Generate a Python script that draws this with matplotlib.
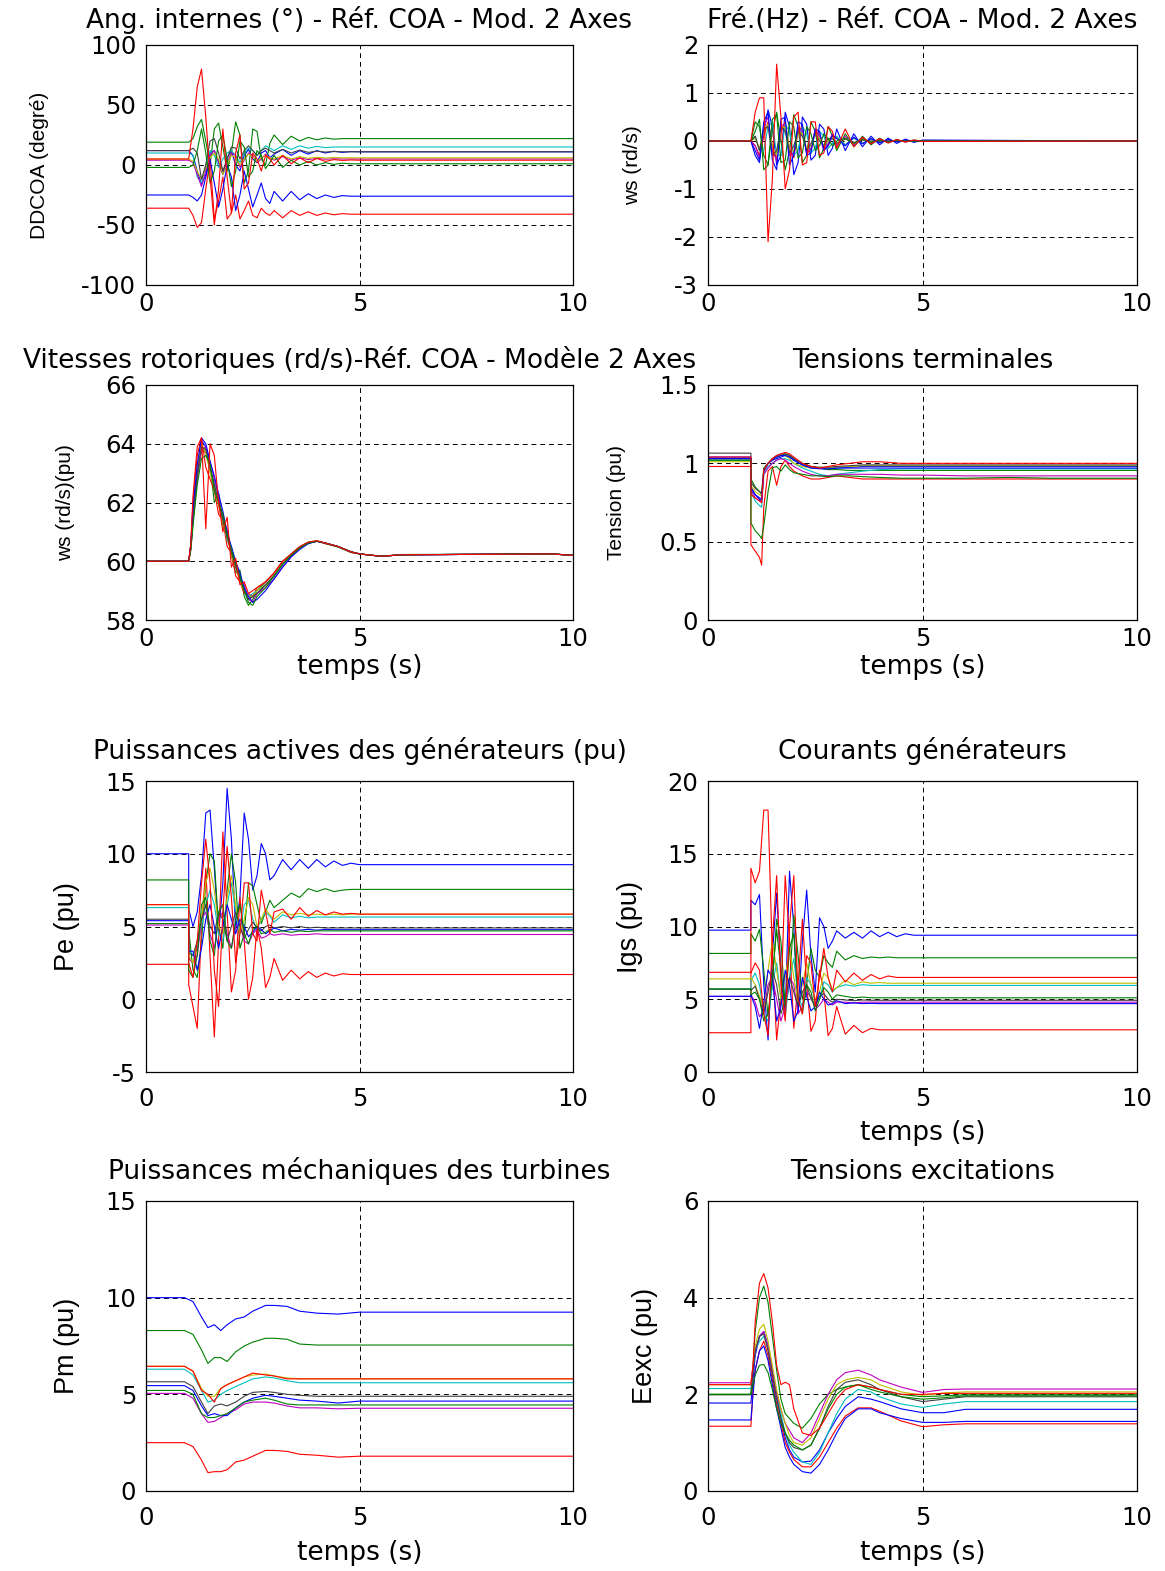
import matplotlib
matplotlib.use("Agg")
import matplotlib.pyplot as plt
import matplotlib.font_manager as fm

plt.rcParams['font.family'] = ['DejaVu Sans']

# ---------------- data ----------------
COLORS = ['#0000ff', '#008000', '#ff0000', '#00bfbf', '#bf00bf',
          '#bfbf00', '#404040', '#0000ff', '#008000', '#ff0000']

X_TICKS = [0, 5, 10]
X_TICK_LABELS = ['0', '5', '10']

# time grid for strongly oscillating quantities
T_OSC = [0, 1.0, 1.0, 1.1, 1.2, 1.3, 1.4, 1.5, 1.6, 1.7, 1.8, 1.9, 2.0,
         2.1, 2.2, 2.3, 2.4, 2.5, 2.6, 2.7, 2.8, 2.9, 3.0,
         3.2, 3.4, 3.6, 3.8, 4.0, 4.2, 4.4, 4.6, 4.8, 5.0, 10.0]

# 1) internal angles (deg)
ANG_G1 = [12,12,12, 8,-5,-16,-8,10,12,2,-8,6,12, 0,-5,8,13,5,2,10,12,6,9, 13,8,12,9,12,10,11.5,10.5,11.2,11, 11]
ANG_G2 = [19,19,19, 22,32,38,20,0,30,35,15,-5,10, 36,25,-15,-5,30,28,5,0,18,25, 17,24,20,23,21,22.5,21.5,22,22,22, 22]
ANG_G3 = [-36,-36,-36, -42,-52,-48,-20,5,-45,-30,-10,-45,-40, -25,-45,-38,-30,-42,-44,-36,-40,-42,-38, -44,-38,-42,-39,-42,-40,-41.5,-40.5,-41,-41, -41]
ANG_G4 = [10,10,10, 8,-10,-15,0,12,8,-2,5,10,12, 8,2,10,14,12,8,12,16,14,12, 16,13,16,14,15.5,14.5,15,15,15,15, 15]
ANG_G5 = [4,4,4, 2,-8,-18,-5,8,12,3,-5,2,10, 8,-2,4,10,8,2,5,9,6,4, 7,4,6,4.5,5.5,4.8,5.2,5,5,5, 5]
ANG_G6 = [5,5,5, 3,-5,-12,-2,6,10,5,-8,0,8, 6,0,5,9,7,3,6,8,6,5, 8,5,7,5.5,6.5,5.8,6.2,6,6,6, 6]
ANG_G7 = [12,12,12, 14,10,-12,0,20,22,10,-5,5,15, 14,5,12,16,12,8,12,14,12,10, 13,10,12.5,10.5,11.5,10.8,11.2,11,11,11, 11]
ANG_G8 = [-25,-25,-25, -27,-30,-25,-10,5,-15,-35,-20,0,-10, -38,-25,-5,-20,-35,-25,-15,-28,-32,-22, -30,-22,-29,-24,-28,-25,-27,-25.5,-26,-26, -26]
ANG_G9 = [-2,-2,-2, 0,12,30,10,-15,-5,20,25,5,-18, -5,20,15,-10,-5,12,8,-3,2,8, -2,4,0,3,0,2,0.5,1.5,1,1, 1]
ANG_G10 = [5,5,5, 30,65,80,40,-10,-50,-20,30,-10,-40, 10,25,-20,-15,10,5,-5,8,5,0, 8,1,6,2,5.5,3,4.5,3.8,4.2,4, 4]

# 2) frequency deviation
FRQ_G1 = [0,0,0, -0.2,-0.4,0.2,0.65,0.3,-0.5,-0.3,0.6,0.3,-0.7, -0.45,0.5,0.35,-0.4,-0.3,0.35,0.25,-0.3,-0.15,0.25, -0.2,0.15,-0.12,0.1,-0.08,0.06,-0.05,0.04,-0.03,0.02, 0]
FRQ_G2 = [0,0,0, 0.4,0.3,-0.3,-0.5,0.2,0.6,0.0,-0.6,-0.2,0.55, 0.3,-0.45,-0.3,0.4,0.2,-0.35,-0.15,0.3,0.1,-0.2, 0.15,-0.12,0.1,-0.08,0.06,-0.04,0.03,-0.02,0.02,0, 0]
FRQ_G3 = [0,0,0, -0.1,-0.3,0.1,0.4,-0.1,-0.4,0.2,0.4,-0.2,-0.35, 0.2,0.3,-0.25,-0.2,0.2,0.15,-0.15,-0.1,0.1,0.08, -0.08,0.06,-0.05,0.04,-0.03,0.02,0,0,0,0, 0]
FRQ_G4 = [0,0,0, 0.1,-0.2,-0.2,0.3,0.4,-0.3,-0.3,0.35,0.2,-0.3, -0.2,0.3,0.15,-0.25,-0.15,0.2,0.1,-0.15,-0.05,0.1, -0.08,0.06,-0.05,0.04,-0.03,0.02,-0.01,0,0,0, 0]
FRQ_G5 = [0,0,0, -0.1,-0.35,0.3,0.5,-0.2,-0.4,0.35,0.3,-0.3,-0.25, 0.3,0.2,-0.25,-0.15,0.25,0.1,-0.2,-0.05,0.15,-0.1, 0.1,-0.08,0.06,-0.05,0.04,-0.03,0.02,-0.02,0.01,0, 0]
FRQ_G6 = [0,0,0, 0.05,-0.15,0.2,0.35,-0.1,-0.3,0.25,0.3,-0.2,-0.2, 0.2,0.15,-0.15,-0.1,0.15,0.05,-0.1,0,0.08,-0.05, 0.05,-0.04,0.03,-0.02,0.02,0,0,0,0,0, 0]
FRQ_G7 = [0,0,0, 0.1,-0.2,0.25,0.3,-0.3,-0.2,0.3,0.2,-0.25,-0.1, 0.2,0.1,-0.2,-0.05,0.15,0,-0.1,0.05,0.05,-0.05, 0.04,-0.03,0.02,0,0,0,0,0,0,0, 0]
FRQ_G8 = [0,0,0, -0.3,-0.45,0.4,0.6,-0.4,-0.6,0.45,0.5,-0.5,-0.3, 0.4,0.35,-0.3,-0.25,0.25,0.2,-0.2,-0.1,0.12,0.05, -0.1,0.08,-0.06,0.05,-0.04,0.03,-0.02,0.02,0,0, 0]
FRQ_G9 = [0,0,0, 0.2,0.45,-0.6,-0.5,0.45,0.55,-0.45,-0.4,0.4,0.3, -0.35,-0.25,0.3,0.15,-0.2,-0.1,0.15,0.05,-0.1,0, 0.06,-0.05,0.04,-0.03,0.02,-0.02,0.01,0,0,0, 0]
FRQ_G10 = [0,0,0, 0.6,0.9,0.9,-2.1,-0.8,1.6,0.5,-1.0,-0.6,0.5, 0.6,-0.5,-0.45,0.4,0.4,-0.3,-0.25,0.3,0.2,-0.15, 0.25,-0.12,0.08,-0.06,0.05,-0.04,0.03,-0.02,0.02,-0.01, 0]

# 3) rotor speeds
T_SPD = [0, 1.0, 1.05, 1.1, 1.2, 1.3, 1.4, 1.5, 1.6, 1.7, 1.8, 1.9, 2.0, 2.1, 2.2, 2.3,
         2.4, 2.5, 2.6, 2.8, 3.0, 3.2, 3.4, 3.6, 3.8, 4.0, 4.2, 4.5, 4.8, 5.0, 5.5, 6.0, 9.5, 10.0]
SPD_G1 = [60,60,60.5, 61.6,63.1,64.1,63.9,63.2,62.6,62.1,61.5,60.9,60.4,59.9,59.5,59.0,58.7,58.8,58.9, 59.2,59.5,59.9,60.2,60.45,60.62,60.68,60.62, 60.5,60.32,60.25, 60.17,60.22,60.25,60.2]
SPD_G2 = [60,60,60.4, 61.3,62.8,63.8,63.7,63.3,62.0,62.3,61.2,61.0,60.2,59.6,59.7,58.8,58.5,58.7,59.0, 59.3,59.6,60.0,60.25,60.5,60.65,60.7,60.6, 60.48,60.3,60.25, 60.17,60.23,60.25,60.2]
SPD_G3 = [60,60,60.6, 62.0,63.6,64.2,63.2,62.8,62.4,61.6,61.4,60.5,60.3,59.5,59.3,58.9,58.9,58.8,59.1, 59.3,59.6,60.0,60.2,60.45,60.62,60.68,60.6, 60.5,60.3,60.25, 60.17,60.22,60.25,60.2]
SPD_G4 = [60,60,60.5, 61.5,63.0,63.9,63.8,63.1,62.7,61.9,61.6,60.7,60.5,59.8,59.4,59.1,58.8,58.9,59.0, 59.2,59.5,59.9,60.2,60.45,60.6,60.68,60.62, 60.5,60.32,60.25, 60.17,60.22,60.25,60.2]
SPD_G5 = [60,60,60.4, 61.4,62.9,63.8,63.9,63.4,62.8,62.2,61.4,61.1,60.3,60.0,59.4,59.2,58.7,58.6,58.9, 59.1,59.4,59.8,60.15,60.45,60.62,60.68,60.62, 60.5,60.32,60.25, 60.17,60.22,60.25,60.2]
SPD_G6 = [60,60,60.5, 61.7,63.2,64.0,63.7,63.0,62.5,61.9,61.3,60.8,60.2,59.8,59.3,59.0,58.8,58.8,59.0, 59.2,59.5,59.9,60.2,60.45,60.62,60.68,60.62, 60.5,60.32,60.25, 60.17,60.22,60.25,60.2]
SPD_G7 = [60,60,60.5, 61.6,63.0,63.9,63.8,63.2,62.6,62.0,61.4,60.8,60.3,59.8,59.4,59.0,58.7,58.8,58.9, 59.2,59.5,59.9,60.2,60.45,60.62,60.68,60.62, 60.5,60.32,60.25, 60.17,60.22,60.25,60.2]
SPD_G8 = [60,60,60.6, 61.8,63.3,64.2,64.0,63.4,62.9,62.3,61.7,61.0,60.5,60.0,59.6,59.1,58.8,58.6,58.7, 59.0,59.4,59.8,60.15,60.4,60.6,60.68,60.62, 60.5,60.32,60.25, 60.17,60.22,60.25,60.2]
SPD_G9 = [60,60,60.4, 61.2,62.6,63.5,63.6,63.3,62.4,62.0,61.6,60.9,60.4,59.9,59.5,59.0,58.6,58.5,58.8, 59.1,59.5,59.9,60.2,60.45,60.62,60.68,60.62, 60.5,60.32,60.25, 60.17,60.22,60.25,60.2]
SPD_G10 = [60,60,60.6, 62.2,63.9,64.2,61.1,64.0,63.6,62.0,61.0,61.5,59.8,60.1,59.2,59.3,58.9,59.0,59.1, 59.3,59.6,60.0,60.25,60.5,60.65,60.7,60.62, 60.5,60.32,60.25, 60.17,60.22,60.25,60.2]

# 4) terminal voltages
T_VT = [0, 1.0, 1.0, 1.1, 1.2, 1.25, 1.3, 1.4, 1.5, 1.6, 1.7, 1.8, 1.9, 2.0,
        2.2, 2.4, 2.6, 2.8, 3.0, 3.3, 3.6, 4.0, 4.5, 5.0, 6.0, 7.0, 8.0, 10.0]
VT_G1 = [1.04,1.04,0.85, 0.8,0.77,0.76,0.95, 1.0,1.02,1.03,1.04,1.05,1.04,1.02, 0.99,0.97,0.97,0.96,0.97, 0.975,0.98,0.98,0.98,0.98, 0.98,0.98,0.98,0.98]
VT_G2 = [1.02,1.02,0.9, 0.85,0.82,0.8,0.97, 1.0,1.03,1.04,1.05,1.06,1.05,1.03, 1.0,0.98,0.97,0.96,0.96, 0.955,0.955,0.955,0.955,0.955, 0.955,0.955,0.955,0.955]
VT_G3 = [0.98,0.98,0.48, 0.44,0.4,0.35,0.72, 0.95,0.98,0.86,0.98,1.02,0.98,0.95, 0.92,0.9,0.9,0.91,0.92, 0.91,0.9,0.9,0.9,0.9, 0.9,0.9,0.9,0.9]
VT_G4 = [1.02,1.02,0.82, 0.76,0.73,0.72,0.93, 0.98,1.0,1.02,1.03,1.03,1.02,1.0, 0.97,0.95,0.93,0.92,0.93, 0.94,0.95,0.96,0.965,0.965, 0.965,0.965,0.965,0.965]
VT_G5 = [1.03,1.03,0.83, 0.78,0.76,0.75,0.93, 0.97,1.0,1.02,1.03,1.02,1.0,0.98, 0.95,0.93,0.92,0.92,0.93, 0.93,0.93,0.93,0.925,0.925, 0.92,0.92,0.92,0.92]
VT_G6 = [1.01,1.01,0.86, 0.82,0.8,0.79,0.95, 1.0,1.02,1.04,1.05,1.05,1.03,1.0, 0.98,0.97,0.97,0.97,0.975, 0.98,0.985,0.985,0.985,0.985, 0.985,0.985,0.985,0.985]
VT_G7 = [1.065,1.065,0.88, 0.84,0.82,0.81,0.96, 1.0,1.03,1.05,1.06,1.06,1.05,1.03, 1.0,0.98,0.975,0.975,0.98, 0.985,0.99,0.99,0.99,0.99, 0.99,0.99,0.99,0.99]
VT_G8 = [1.03,1.03,0.84, 0.8,0.78,0.77,0.95, 1.0,1.02,1.04,1.05,1.05,1.04,1.02, 0.99,0.97,0.965,0.965,0.97, 0.97,0.97,0.97,0.97,0.97, 0.97,0.97,0.97,0.97]
VT_G9 = [1.02,1.02,0.62, 0.57,0.54,0.52,0.6, 0.82,0.97,0.98,0.95,0.99,0.96,0.94, 0.93,0.92,0.92,0.915,0.92, 0.92,0.915,0.91,0.905,0.905, 0.905,0.91,0.905,0.905]
VT_G10 = [1.04,1.04,0.8, 0.78,0.76,0.75,0.96, 1.0,1.03,1.05,1.06,1.07,1.06,1.04, 1.0,0.98,0.97,0.98,0.99, 1.0,1.01,1.01,1.0,1.0, 1.0,1.0,1.0,1.0]

# 5) active power Pe
PE_G1 = [10,10,6.2, 5.0,6.0,8.5,12.8,13.0,9.0,4.5,8.0,14.5,11.0, 4.8,7.0,12.8,11.0,7.5,8.5,10.7,10.0,8.2,8.5, 9.6,8.9,9.6,9.0,9.6,9.1,9.5,9.2,9.35,9.25, 9.25]
PE_G2 = [8.2,8.2,4.8, 2.0,1.5,4.0,8.0,10.0,9.5,5.0,3.5,7.5,10.0, 8.0,3.5,4.5,8.0,7.8,6.5,5.2,6.0,6.8,6.3, 6.8,7.3,7.0,7.6,7.4,7.6,7.4,7.5,7.55,7.55, 7.55]
PE_G3 = [2.4,2.4,1.0, -0.5,-2.0,5.0,9.0,3.0,-2.6,4.0,11.5,6.0,0.5, 2.0,7.0,4.0,0.0,1.5,5.0,3.5,0.8,1.5,2.8, 1.3,2.0,1.4,1.9,1.5,1.8,1.6,1.75,1.7,1.7, 1.7]
PE_G4 = [6.3,6.3,3.5, 3.0,3.5,5.0,6.5,7.5,6.5,4.5,4.0,6.5,8.0, 6.0,4.5,6.5,6.8,5.5,4.8,5.5,6.0,5.7,5.3, 5.8,5.6,5.7,5.6,5.65,5.65,5.65,5.65,5.65,5.65, 5.65]
PE_G5 = [5.1,5.1,2.8, 2.5,3.0,5.5,6.0,4.5,3.5,5.5,6.0,4.5,3.5, 5.0,5.2,4.0,3.8,4.5,4.8,4.2,4.3,4.5,4.4, 4.5,4.4,4.45,4.45,4.5,4.45,4.45,4.45,4.45,4.45, 4.45]
PE_G6 = [6.5,6.5,3.0, 2.5,4.0,5.5,8.0,9.0,7.5,5.0,4.5,7.0,8.5, 6.5,4.5,5.5,7.0,6.5,5.0,5.5,6.2,5.8,5.5, 6.0,5.8,5.9,5.8,5.85,5.8,5.85,5.8,5.85,5.85, 5.85]
PE_G7 = [5.5,5.5,3.2, 3.0,4.0,5.5,6.5,5.0,4.5,6.0,5.5,4.0,5.0, 6.0,5.0,4.2,4.8,5.3,4.9,4.7,5.0,5.1,4.9, 5.0,4.9,5.0,4.9,4.95,4.9,4.9,4.9,4.9,4.9, 4.9]
PE_G8 = [5.4,5.4,3.3, 3.3,2.0,3.5,5.5,6.5,5.0,3.5,5.0,6.5,5.5, 4.5,5.5,5.0,4.3,4.6,5.0,4.8,4.5,4.7,4.9, 4.7,4.8,4.75,4.8,4.75,4.8,4.78,4.78,4.78,4.78, 4.78]
PE_G9 = [5.2,5.2,2.0, 1.5,3.0,6.5,7.0,4.0,3.0,6.0,6.5,4.0,3.5, 5.5,6.5,4.5,3.8,4.8,5.0,4.5,4.6,4.8,4.6, 4.7,4.6,4.7,4.65,4.7,4.7,4.7,4.7,4.7,4.7, 4.7]
PE_G10 = [6.5,6.5,2.5, 1.5,4.0,8.0,11.0,8.0,2.0,-0.5,6.0,10.5,7.0, 2.5,4.5,8.0,8.0,4.5,4.0,7.5,6.0,4.5,6.0, 6.2,5.5,6.3,5.7,6.1,5.8,6.0,5.85,5.9,5.85, 5.85]

# 6) generator currents Igs
IG_G1 = [9.75,9.75,11.8, 11.5,12.2,6.0,2.2,8.0,12.3,7.0,4.0,13.8,10.0, 4.0,9.0,12.5,8.0,5.5,10.6,10.0,8.5,9.0,9.7, 9.2,9.6,9.2,9.7,9.3,9.6,9.3,9.5,9.4,9.4, 9.4]
IG_G2 = [8.15,8.15,9.5, 9.0,9.8,7.0,3.8,6.0,10.5,9.0,4.5,6.0,10.8, 8.0,5.0,6.0,8.5,7.0,6.5,8.0,7.5,7.2,8.3, 7.7,8.0,7.8,7.9,7.85,7.9,7.85,7.85,7.85,7.85, 7.85]
IG_G3 = [2.7,2.7,14.0, 13.0,13.8,18.0,18.0,8.0,2.2,5.0,13.5,9.0,3.0, 6.0,10.5,6.0,2.8,3.5,7.0,5.5,2.5,3.0,4.5, 2.6,3.2,2.7,3.0,2.9,2.9,2.9,2.9,2.9,2.9, 2.9]
IG_G4 = [5.7,5.7,6.3, 6.8,6.0,4.0,3.5,6.0,7.5,5.0,3.8,6.5,7.8, 5.2,4.5,6.5,6.0,4.8,5.0,6.2,6.0,5.5,5.8, 6.0,5.9,6.0,5.95,5.95,5.95,5.95,5.95,5.95,5.95, 5.95]
IG_G5 = [5.2,5.2,5.3, 4.8,3.8,4.2,6.0,6.5,5.0,3.5,4.5,6.5,6.0, 4.0,4.5,5.5,5.2,4.3,4.6,5.0,4.8,4.6,4.8, 4.8,4.75,4.8,4.8,4.8,4.8,4.8,4.8,4.8,4.8, 4.8]
IG_G6 = [6.4,6.4,6.5, 6.0,5.2,4.5,7.0,9.0,7.0,5.0,6.5,8.5,6.5, 4.8,6.0,7.5,6.0,5.0,5.5,6.8,6.5,5.6,5.8, 6.3,6.0,6.2,6.1,6.15,6.1,6.1,6.1,6.1,6.1, 6.1]
IG_G7 = [5.7,5.7,5.6, 5.9,5.0,4.0,5.5,7.0,6.0,4.0,5.0,6.5,5.5, 4.5,5.5,6.0,5.0,4.6,5.2,5.4,5.0,4.8,5.0, 4.95,4.9,4.95,4.93,4.93,4.93,4.93,4.93,4.93,4.93, 4.93]
IG_G8 = [5.2,5.2,5.3, 4.5,3.0,4.8,7.0,6.5,3.5,4.5,7.0,6.0,3.5, 4.2,6.5,5.2,4.2,4.5,5.5,5.0,4.6,4.7,4.9, 4.7,4.75,4.7,4.72,4.7,4.7,4.7,4.7,4.7,4.7, 4.7]
IG_G9 = [5.7,5.7,5.3, 5.5,5.0,3.5,4.0,6.5,9.8,7.0,4.5,8.5,9.5, 5.0,4.0,6.0,5.5,4.2,5.0,5.8,5.5,5.0,5.3, 5.2,5.1,5.15,5.1,5.1,5.1,5.1,5.1,5.1,5.1, 5.1]
IG_G10 = [6.85,6.85,6.8, 7.5,7.0,4.0,2.5,9.0,13.5,6.0,3.5,10.0,13.5, 5.0,4.0,8.0,7.5,4.5,6.5,8.5,6.5,5.5,7.0, 6.2,6.8,6.3,6.7,6.4,6.6,6.5,6.5,6.5,6.5, 6.5]

# 7) mechanical power Pm
T_PM = [0, 0.9, 1.1, 1.3, 1.45, 1.6, 1.75, 1.9, 2.1, 2.3, 2.5, 2.8, 3.0, 3.3, 3.6, 4.0, 4.5, 5.0, 10.0]
PM_G1 = [10,10,9.8,9.0,8.45,8.6,8.3,8.6,8.9,9.0,9.3,9.6,9.6,9.55,9.3,9.2,9.15,9.25,9.25]
PM_G2 = [8.3,8.3,8.1,7.3,6.6,6.9,6.9,6.7,7.2,7.5,7.7,7.9,7.9,7.85,7.6,7.55,7.55,7.55,7.55]
PM_G3 = [2.5,2.5,2.3,1.6,0.95,1.0,1.0,1.1,1.5,1.6,1.8,2.1,2.1,2.05,1.9,1.85,1.75,1.8,1.8]
PM_G4 = [6.3,6.3,6.0,5.2,4.6,4.7,5.0,5.2,5.4,5.6,5.8,5.9,5.85,5.7,5.6,5.6,5.6,5.6,5.6]
PM_G5 = [5.05,5.05,4.8,4.0,3.55,3.6,3.8,4.0,4.2,4.5,4.6,4.6,4.55,4.4,4.3,4.3,4.25,4.28,4.28]
PM_G6 = [6.45,6.45,6.2,5.3,4.9,4.9,5.3,5.5,5.7,5.9,6.0,6.05,5.95,5.85,5.8,5.8,5.8,5.8,5.8]
PM_G7 = [5.65,5.65,5.4,4.6,4.0,4.4,4.5,4.4,4.6,4.9,5.1,5.15,5.1,5.0,4.95,4.9,4.9,4.9,4.9]
PM_G8 = [5.45,5.45,5.2,4.4,3.9,4.0,3.9,3.9,4.3,4.6,4.8,4.95,4.9,4.8,4.7,4.65,4.55,4.65,4.65]
PM_G9 = [5.2,5.2,5.0,4.0,3.8,3.8,3.9,4.0,4.3,4.6,4.7,4.8,4.7,4.5,4.45,4.45,4.45,4.45,4.45]
PM_G10 = [6.45,6.45,6.2,5.2,5.0,4.6,5.3,5.5,5.7,5.9,6.1,6.0,5.95,5.8,5.8,5.8,5.8,5.8,5.8]

# 8) excitation voltages
T_EX = [0, 1.0, 1.05, 1.1, 1.2, 1.3, 1.4, 1.5, 1.6, 1.7, 1.8, 1.9, 2.0, 2.2, 2.4,
        2.6, 2.8, 3.0, 3.2, 3.5, 3.8, 4.0, 4.5, 5.0, 5.5, 6.0, 10.0]
EX_G1 = [1.82,1.82,2.3,2.8,3.2, 3.3,3.0,2.5,2.0,1.5, 1.1,0.85,0.7,0.6,0.62, 0.85,1.2,1.5,1.75,1.95, 1.9,1.85,1.7,1.62,1.62, 1.69,1.69]
EX_G2 = [2.0,2.0,2.6,3.3,4.0, 4.24,3.9,3.2,2.5,1.9, 1.6,1.5,1.4,1.3,1.5, 1.8,2.0,2.1,2.15,2.2, 2.15,2.1,2.0,1.95,1.97, 1.99,1.99]
EX_G3 = [1.34,1.34,2.1,2.5,2.9, 3.1,2.8,2.3,1.8,1.4, 1.0,0.8,0.65,0.5,0.5, 0.7,1.0,1.3,1.55,1.72, 1.72,1.65,1.45,1.33,1.37, 1.39,1.39]
EX_G4 = [2.12,2.12,2.5,2.9,3.1, 3.2,3.0,2.5,2.0,1.6, 1.2,0.95,0.8,0.6,0.55, 0.8,1.2,1.6,1.9,2.1, 2.05,1.95,1.8,1.73,1.8, 1.85,1.85]
EX_G5 = [2.24,2.24,2.6,2.9,3.2, 3.3,3.0,2.5,2.0,1.7, 1.4,1.25,1.1,1.0,1.2, 1.6,2.0,2.3,2.45,2.5, 2.4,2.3,2.15,2.04,2.1, 2.11,2.11]
EX_G6 = [2.2,2.2,2.6,3.0,3.35, 3.45,3.1,2.6,2.1,1.7, 1.4,1.15,1.0,0.95,1.1, 1.5,1.9,2.2,2.3,2.35, 2.3,2.2,2.05,1.98,2.03, 2.05,2.05]
EX_G7 = [1.99,1.99,2.5,2.9,3.2, 3.25,2.9,2.4,1.9,1.5, 1.2,1.0,0.9,0.85,0.95, 1.3,1.75,2.1,2.25,2.3, 2.2,2.1,1.95,1.85,1.9, 1.95,1.95]
EX_G8 = [1.47,1.47,2.0,2.5,2.9, 3.0,2.7,2.2,1.7,1.3, 0.9,0.7,0.55,0.4,0.37, 0.55,0.85,1.2,1.5,1.7, 1.7,1.62,1.5,1.42,1.42, 1.44,1.44]
EX_G9 = [2.0,2.0,2.2,2.4,2.6, 2.62,2.45,2.1,1.7,1.4, 1.2,1.05,0.95,0.85,0.95, 1.3,1.7,2.0,2.15,2.2, 2.1,2.05,1.95,1.9,1.93, 1.97,1.97]
EX_G10 = [2.2,2.2,2.6,3.5,4.3, 4.5,4.2,3.5,2.6,2.2, 2.25,2.2,1.7,1.2,1.15, 1.3,1.6,1.9,2.1,2.2, 2.15,2.1,2.0,2.0,2.02, 2.02,2.02]

# ---------------- fonts ----------------
_names = {f.name for f in fm.fontManager.ttflist}
if 'Liberation Sans Narrow' in _names:
    YLAB_SMALL = dict(family=['Liberation Sans Narrow', 'DejaVu Sans'], size=17.5)
else:
    YLAB_SMALL = dict(family=['Liberation Sans', 'DejaVu Sans'], size=15)
YLAB_BIG = dict(family=['Liberation Sans', 'DejaVu Sans'], size=19.5)
FS_TICK = 17.5
FS_TITLE = 19
FS_XLAB = 19

# ---------------- layout ----------------
W, H = 1165, 1571
fig = plt.figure(figsize=(W / 100, H / 100), dpi=100)

COL_X = [(146, 573), (708, 1137)]
ROW_Y = [(45, 285), (385, 620), (781, 1072), (1201, 1491)]


def make_ax(col, row):
    x0, x1 = COL_X[col]
    y0, y1 = ROW_Y[row]
    return fig.add_axes([x0 / W, 1 - y1 / H, (x1 - x0) / W, (y1 - y0) / H])


panels = [
    dict(col=0, row=0, t=T_OSC, ys=[ANG_G1, ANG_G2, ANG_G3, ANG_G4, ANG_G5, ANG_G6, ANG_G7, ANG_G8, ANG_G9, ANG_G10],
         ylim=(-100, 100), yticks=[-100, -50, 0, 50, 100], ytl=['-100', '-50', '0', '50', '100'],
         title='Ang. internes (°) - Réf. COA - Mod. 2 Axes', ylabel='DDCOA (degré)', ylab_x=40, xlab=None),
    dict(col=1, row=0, t=T_OSC, ys=[FRQ_G1, FRQ_G2, FRQ_G3, FRQ_G4, FRQ_G5, FRQ_G6, FRQ_G7, FRQ_G8, FRQ_G9, FRQ_G10],
         ylim=(-3, 2), yticks=[-3, -2, -1, 0, 1, 2], ytl=['-3', '-2', '-1', '0', '1', '2'],
         title='Fré.(Hz) - Réf. COA - Mod. 2 Axes', ylabel='ws (rd/s)', ylab_x=633, xlab=None),
    dict(col=0, row=1, t=T_SPD, ys=[SPD_G1, SPD_G2, SPD_G3, SPD_G4, SPD_G5, SPD_G6, SPD_G7, SPD_G8, SPD_G9, SPD_G10],
         ylim=(58, 66), yticks=[58, 60, 62, 64, 66], ytl=['58', '60', '62', '64', '66'],
         title='Vitesses rotoriques (rd/s)-Réf. COA - Modèle 2 Axes', ylabel='ws (rd/s)(pu)', ylab_x=66, xlab=667),
    dict(col=1, row=1, t=T_VT, ys=[VT_G1, VT_G2, VT_G3, VT_G4, VT_G5, VT_G6, VT_G7, VT_G8, VT_G9, VT_G10],
         ylim=(0, 1.5), yticks=[0, 0.5, 1, 1.5], ytl=['0', '0.5', '1', '1.5'],
         title='Tensions terminales', ylabel='Tension (pu)', ylab_x=617, xlab=667),
    dict(col=0, row=2, t=T_OSC, ys=[PE_G1, PE_G2, PE_G3, PE_G4, PE_G5, PE_G6, PE_G7, PE_G8, PE_G9, PE_G10],
         ylim=(-5, 15), yticks=[-5, 0, 5, 10, 15], ytl=['-5', '0', '5', '10', '15'],
         title='Puissances actives des générateurs (pu)', ylabel='Pe (pu)', ylab_x=67, xlab=None),
    dict(col=1, row=2, t=T_OSC, ys=[IG_G1, IG_G2, IG_G3, IG_G4, IG_G5, IG_G6, IG_G7, IG_G8, IG_G9, IG_G10],
         ylim=(0, 20), yticks=[0, 5, 10, 15, 20], ytl=['0', '5', '10', '15', '20'],
         title='Courants générateurs', ylabel='Igs (pu)', ylab_x=630, xlab=1133),
    dict(col=0, row=3, t=T_PM, ys=[PM_G1, PM_G2, PM_G3, PM_G4, PM_G5, PM_G6, PM_G7, PM_G8, PM_G9, PM_G10],
         ylim=(0, 15), yticks=[0, 5, 10, 15], ytl=['0', '5', '10', '15'],
         title='Puissances méchaniques des turbines', ylabel='Pm (pu)', ylab_x=67, xlab=1553),
    dict(col=1, row=3, t=T_EX, ys=[EX_G1, EX_G2, EX_G3, EX_G4, EX_G5, EX_G6, EX_G7, EX_G8, EX_G9, EX_G10],
         ylim=(0, 6), yticks=[0, 2, 4, 6], ytl=['0', '2', '4', '6'],
         title='Tensions excitations', ylabel='Eexc (pu)', ylab_x=645, xlab=1553),
]

for p in panels:
    ax = make_ax(p['col'], p['row'])
    big = p['row'] >= 2
    for y, c in zip(p['ys'], COLORS):
        ax.plot(p['t'], y, color=c, lw=0.8)
    ax.set_xlim(0, 10)
    ax.set_ylim(*p['ylim'])
    ax.set_xticks(X_TICKS)
    ax.set_xticklabels(X_TICK_LABELS, fontsize=FS_TICK)
    ax.set_yticks(p['yticks'])
    ax.set_yticklabels(p['ytl'], fontsize=FS_TICK)
    ax.tick_params(direction='in', length=3, width=0.6)
    ax.tick_params(axis='x', pad=11 if big else 5)
    ax.tick_params(axis='y', pad=7)
    ax.grid(True, color='black', linestyle=(0, (5, 4)), linewidth=0.7)
    for s in ax.spines.values():
        s.set_linewidth(0.9)
    ax.set_title(p['title'], fontsize=FS_TITLE, pad=16 if big else 12)
    x0, x1 = COL_X[p['col']]
    y0, y1 = ROW_Y[p['row']]
    ax.set_ylabel(p['ylabel'], fontdict=(YLAB_BIG if big else YLAB_SMALL), va='center')
    ax.yaxis.set_label_coords((p['ylab_x'] - x0) / (x1 - x0), 0.5)
    if p['xlab'] is not None:
        ax.set_xlabel('temps (s)', fontsize=FS_XLAB, va='center')
        ax.xaxis.set_label_coords(0.5, -(p['xlab'] - y1) / (y1 - y0))

fig.savefig('out.png', dpi=100)
